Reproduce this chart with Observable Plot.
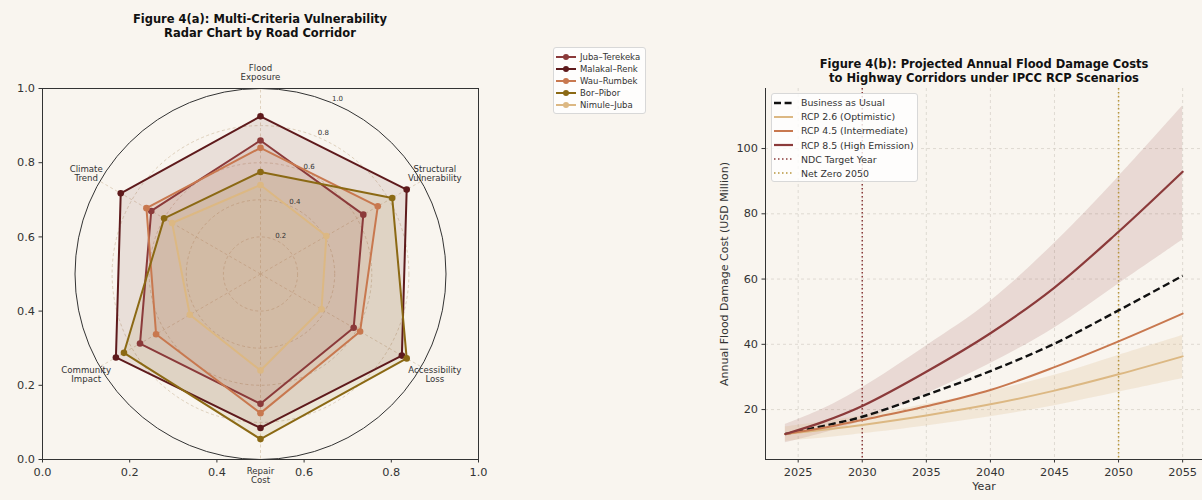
<!DOCTYPE html>
<html><head><meta charset="utf-8">
<script src="https://cdn.jsdelivr.net/npm/d3@7"></script>
<script src="https://cdn.jsdelivr.net/npm/@observablehq/plot@0.6"></script>
<style>
body{margin:0;background:#f9f5ef;}
#wrap{position:relative;width:1202px;height:500px;background:#f9f5ef;font-family:"DejaVu Sans",sans-serif;overflow:hidden}
.panel{position:absolute;top:0}
.title{position:absolute;font-weight:bold;font-size:11.5px;text-align:center;line-height:13.5px;color:#111;white-space:nowrap}
.legend{position:absolute;background:rgba(255,255,255,0.8);border:1px solid #d8d8d8;border-radius:3px;box-sizing:border-box}
.legend .row{position:absolute;left:0;display:flex;align-items:center;white-space:nowrap;color:#333}
.legend svg{display:block}
</style></head><body><div id="wrap"></div>
<script>
// ---------- Figure 4(a) data ----------
const criteria = ["Flood\nExposure","Structural\nVulnerability","Accessibility\nLoss","Repair\nCost","Community\nImpact","Climate\nTrend"];
const corridors = ["Juba–Terekeka","Malakal–Renk","Wau–Rumbek","Bor–Pibor","Nimule–Juba"];
const jubaTerekeka = [0.72,0.64,0.58,0.70,0.75,0.68];
const malakalRenk  = [0.85,0.91,0.88,0.83,0.90,0.87];
const wauRumbek    = [0.68,0.73,0.62,0.75,0.65,0.71];
const borPibor     = [0.55,0.82,0.91,0.89,0.85,0.60];
const nimuleJuba   = [0.48,0.41,0.38,0.52,0.44,0.55];
const corridorColors = ["#8b3a3a","#5e1a1c","#c8784f","#8b6914","#dcb883"];
const radialTicks = [0.2,0.4,0.6,0.8,1.0];
const frameTicks = [0,0.2,0.4,0.6,0.8,1.0];

// ---------- Figure 4(b) data ----------
const years     = [2024, 2027, 2030, 2035, 2040, 2045, 2050, 2055];
const bau       = [12.5, 15.0, 17.8, 24.5, 31.8, 40.2, 50.4, 61.0];
const rcp26     = [12.5, 13.8, 15.3, 18.2, 21.6, 25.8, 30.8, 36.3];
const rcp26Low  = [10.3, 11.3, 12.6, 15.0, 17.8, 21.2, 25.3, 29.5];
const rcp26High = [14.7, 16.3, 18.0, 21.6, 25.6, 30.5, 36.6, 42.7];
const rcp45     = [12.5, 14.4, 16.8, 21.0, 26.0, 33.0, 40.9, 49.4];
const rcp85     = [12.5, 16.3, 21.1, 31.6, 43.4, 57.4, 74.5, 92.9];
const rcp85Low  = [9.8, 12.8, 16.5, 24.8, 34.1, 45.0, 58.5, 72.0];
const rcp85High = [15.4, 20.3, 26.7, 39.5, 53.2, 71.0, 91.3, 113.0];
const yearTicks = [2025, 2030, 2035, 2040, 2045, 2050, 2055];
const costTicks = [20, 40, 60, 80, 100];
const milestones = [2030, 2050];
const scenarioNames = ["Business as Usual","RCP 2.6 (Optimistic)","RCP 4.5 (Intermediate)","RCP 8.5 (High Emission)","NDC Target Year","Net Zero 2050"];
const scenarioColors = ["#111111","#dcb883","#c8784f","#8b3a3a","#8b3a3a","#b8953c"];

const wrap = document.getElementById("wrap");
const baseStyle = {background:"transparent", fontFamily:"DejaVu Sans", fontSize:"11.3px", color:"#333", overflow:"visible"};

// ---------- left: cartesian frame ----------
const frameSvg = Plot.plot({
  width: 500, height: 500,
  marginLeft: 42, marginRight: 22, marginTop: 88, marginBottom: 41,
  x: {domain:[0,1], ticks: frameTicks, tickFormat: d3.format(".1f"), tickSize: 3.5, tickPadding: 5, label: null},
  y: {domain:[0,1], ticks: frameTicks, tickFormat: d3.format(".1f"), tickSize: 3.5, tickPadding: 4, label: null},
  style: baseStyle,
  marks: [ Plot.frame({stroke:"#333", strokeWidth: 1}) ]
});

// ---------- left: radar ----------
const nAx = criteria.length;
const ang = i => i * 2 * Math.PI / nAx;
const seriesValues = [jubaTerekeka, malakalRenk, wauRumbek, borPibor, nimuleJuba];
const radarPts = corridors.flatMap((name, s) => seriesValues[s].map((v, i) => ({name, v, i})));
const px = d => d.v * Math.sin(ang(d.i));
const py = d => d.v * Math.cos(ang(d.i));
const cx = 260, cy = 273.5, R = 185.5;
const radarSvg = Plot.plot({
  width: 500, height: 500, margin: 0,
  x: {domain:[-1,1], range:[cx-R, cx+R], axis: null},
  y: {domain:[-1,1], range:[cy+R, cy-R], axis: null},
  r: {type:"linear", domain:[0,1], range:[0,R]},
  color: {domain: corridors, range: corridorColors},
  style: baseStyle,
  marks: [
    Plot.dot(radialTicks.filter(t => t < 1), {x: () => 0, y: () => 0, r: d => d, fill: "none", stroke: "#d6c5ad", strokeWidth: 0.8, strokeDasharray: "3,2.5"}),
    Plot.link(criteria, {x1: () => 0, y1: () => 0, x2: (d, i) => Math.sin(ang(i)), y2: (d, i) => Math.cos(ang(i)), stroke: "#d9c9b2", strokeWidth: 0.8, strokeDasharray: "3,2.5"}),
    Plot.line(radarPts, {x: px, y: py, z: "name", fill: "name", fillOpacity: 0.1, stroke: null, curve: "linear-closed"}),
    Plot.line(radarPts, {x: px, y: py, z: "name", stroke: "name", strokeWidth: 2, curve: "linear-closed"}),
    Plot.dot(radarPts, {x: px, y: py, fill: "name", r: 3.3}),
    Plot.dot([1], {x: () => 0, y: () => 0, r: d => d, fill: "none", stroke: "#333", strokeWidth: 1}),
    Plot.text(criteria, {x: (d, i) => 1.085 * Math.sin(ang(i)), y: (d, i) => 1.085 * Math.cos(ang(i)), text: d => d, fontSize: 8.6, fill: "#333", lineHeight: 1.1}),
    Plot.text(radialTicks, {x: d => d * Math.sin(Math.PI/8), y: d => d * Math.cos(Math.PI/8), text: d => d.toFixed(1), dx: 6, dy: -4, fontSize: 7, fill: "#333"})
  ]
});

// ---------- right: projection chart ----------
const xDom = [2022.45, 2056.55], yDom = [4.7, 118.4];
const val = arr => (d, i) => arr[i];
const crv = "catmull-rom";
const rightSvg = Plot.plot({
  width: 502, height: 500,
  marginLeft: 65, marginRight: 0, marginTop: 88, marginBottom: 41,
  x: {domain: xDom, ticks: yearTicks, tickFormat: "d", tickSize: 3.5, tickPadding: 5, label: null},
  y: {domain: yDom, ticks: costTicks, tickSize: 3.5, tickPadding: 4, label: null},
  style: baseStyle,
  marks: [
    Plot.gridX({ticks: yearTicks, stroke: "#d8d3cb", strokeOpacity: 0.8, strokeDasharray: "3,3"}),
    Plot.gridY({ticks: costTicks, stroke: "#d8d3cb", strokeOpacity: 0.8, strokeDasharray: "3,3"}),
    Plot.areaY(years, {x: d => d, y1: val(rcp85Low), y2: val(rcp85High), fill: "#8b3a3a", fillOpacity: 0.15, curve: crv}),
    Plot.areaY(years, {x: d => d, y1: val(rcp26Low), y2: val(rcp26High), fill: "#dcb883", fillOpacity: 0.22, curve: crv}),
    Plot.ruleX(milestones, {stroke: (d, i) => scenarioColors[4 + i], strokeWidth: 1.5, strokeDasharray: "1.5,2.5"}),
    Plot.line(years, {x: d => d, y: val(bau), stroke: scenarioColors[0], strokeWidth: 2.4, strokeDasharray: "7.4,3.6", strokeLinecap: "butt", curve: crv}),
    Plot.line(years, {x: d => d, y: val(rcp26), stroke: scenarioColors[1], strokeWidth: 2, curve: crv}),
    Plot.line(years, {x: d => d, y: val(rcp45), stroke: scenarioColors[2], strokeWidth: 2, curve: crv}),
    Plot.line(years, {x: d => d, y: val(rcp85), stroke: scenarioColors[3], strokeWidth: 2.2, curve: crv}),
    Plot.ruleX([xDom[0]], {stroke: "#333", strokeWidth: 1}),
    Plot.ruleY([yDom[0]], {stroke: "#333", strokeWidth: 1}),
    Plot.text(["Annual Flood Damage Cost (USD Million)"], {frameAnchor: "left", textAnchor: "middle", rotate: -90, dx: -41, text: d => d, fontSize: 11, fill: "#333"}),
    Plot.text(["Year"], {frameAnchor: "bottom", dy: 30, text: d => d, fontSize: 11, fill: "#333"})
  ]
});
[frameSvg, radarSvg].forEach(svg => { svg.classList.add("panel"); svg.style.left = "0px"; wrap.appendChild(svg); });
rightSvg.classList.add("panel"); rightSvg.style.left = "700px"; wrap.appendChild(rightSvg);

// ---------- titles ----------
function addTitle(text, cxp, top) {
  const d = document.createElement("div");
  d.className = "title"; d.style.left = (cxp - 200) + "px"; d.style.width = "400px"; d.style.top = top + "px";
  d.innerHTML = text; wrap.appendChild(d);
}
addTitle("Figure 4(a): Multi-Criteria Vulnerability<br>Radar Chart by Road Corridor", 260, 13);
addTitle("Figure 4(b): Projected Annual Flood Damage Costs<br>to Highway Corridors under IPCC RCP Scenarios", 984, 58);

// ---------- legends ----------
function legend(left, top, w, h) {
  const box = document.createElement("div");
  box.className = "legend";
  Object.assign(box.style, {left: left + "px", top: top + "px", width: w + "px", height: h + "px"});
  wrap.appendChild(box);
  return box;
}
const lg1 = legend(553, 47, 93, 67);
corridors.forEach((name, i) => {
  const row = document.createElement("div");
  row.className = "row";
  row.style.top = (2.5 + i * 12.2) + "px"; row.style.height = "12px"; row.style.fontSize = "8.5px";
  row.innerHTML = `<svg width="26" height="12"><line x1="2" x2="22" y1="6" y2="6" stroke="${corridorColors[i]}" stroke-width="2"/><circle cx="12" cy="6" r="3" fill="${corridorColors[i]}"/></svg><span>${name}</span>`;
  lg1.appendChild(row);
});
const lg2 = legend(771, 93, 147, 89);
const lineStyles = ["7,3.6", null, null, null, "1.5,2.5", "1.5,2.5"];
const lineWidths = [2.4, 2, 2, 2.2, 1.5, 1.5];
scenarioNames.forEach((name, i) => {
  const row = document.createElement("div");
  row.className = "row";
  row.style.top = (1.7 + i * 14.1) + "px"; row.style.height = "14px"; row.style.fontSize = "9.4px";
  const dash = lineStyles[i] ? `stroke-dasharray="${lineStyles[i]}"` : "";
  row.innerHTML = `<svg width="29" height="14"><line x1="2" x2="21" y1="7" y2="7" stroke="${scenarioColors[i]}" stroke-width="${lineWidths[i]}" ${dash}/></svg><span>${name}</span>`;
  lg2.appendChild(row);
});
</script></body></html>
